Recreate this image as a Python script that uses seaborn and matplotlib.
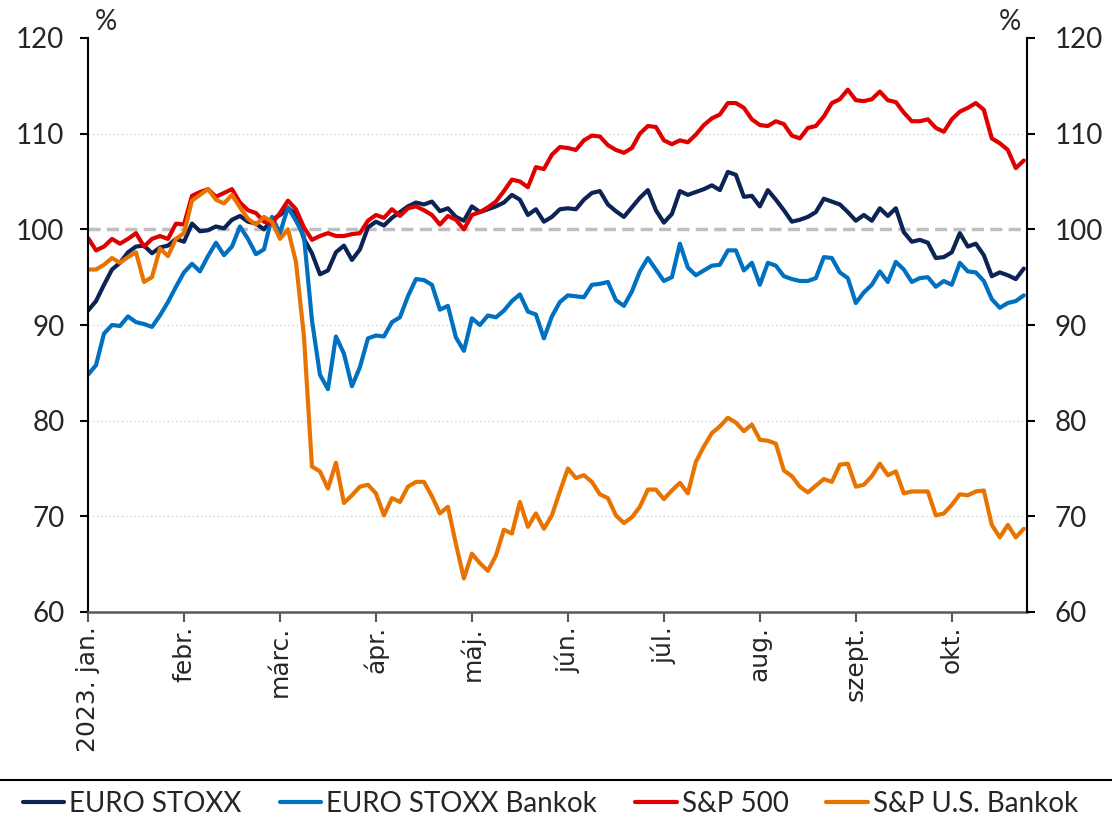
import numpy as np
import pandas as pd
import matplotlib.pyplot as plt
import seaborn as sns
from matplotlib.lines import Line2D

# havi címkék (minden 12. kereskedési pontnál)
months = ["2023. jan.", "febr.", "márc.", "ápr.", "máj.", "jún.",
          "júl.", "aug.", "szept.", "okt."]

# indexek, 2023. jan. eleje = 100 körüli szint (%)
euro_stoxx = [
    91.5, 92.5, 94.2, 95.8, 96.5, 97.6, 98.2, 98.3, 97.5, 98.1, 98.3, 99.0, 98.7, 100.6, 99.8, 99.9, 100.3, 100.1, 101.0, 101.4, 100.8,
    100.6, 100.0, 101.0, 101.5, 102.2, 101.6, 99.0, 97.5, 95.3, 95.7, 97.6, 98.3, 96.8, 97.9, 100.2, 100.8, 100.4, 101.2, 101.8, 102.4,
    102.8, 102.6, 102.9, 101.9, 102.2, 101.3, 100.9, 102.4, 101.8, 102.1, 102.4, 102.8, 103.6, 103.1, 101.5, 102.1, 100.8, 101.3, 102.1, 102.2,
    102.1, 103.1, 103.8, 104.0, 102.6, 101.9, 101.3, 102.3, 103.3, 104.1, 102.0, 100.7, 101.6, 104.0, 103.6, 103.9, 104.2, 104.6, 104.1, 106.0,
    105.7, 103.4, 103.5, 102.4, 104.1, 103.1, 102.0, 100.8, 101.0, 101.3, 101.8, 103.2, 102.9, 102.6, 101.8, 100.9, 101.5, 100.9, 102.2, 101.4,
    102.2, 99.7, 98.7, 98.9, 98.6, 97.0, 97.1, 97.6, 99.6, 98.2, 98.5, 97.3, 95.1, 95.5, 95.2, 94.8, 95.9,
]
euro_banks = [
    84.8, 85.8, 89.1, 90.0, 89.9, 90.9, 90.3, 90.1, 89.8, 91.0, 92.4, 94.0, 95.5, 96.4, 95.6, 97.2, 98.6, 97.3, 98.2, 100.3, 99.0,
    97.4, 97.9, 101.3, 99.6, 102.3, 100.9, 99.3, 90.5, 84.8, 83.3, 88.8, 87.0, 83.6, 85.6, 88.6, 88.9, 88.8, 90.3, 90.8, 93.0,
    94.8, 94.7, 94.2, 91.6, 92.0, 88.7, 87.3, 90.7, 90.0, 91.0, 90.8, 91.5, 92.5, 93.2, 91.4, 91.1, 88.6, 90.9, 92.4, 93.1,
    93.0, 92.9, 94.2, 94.3, 94.5, 92.6, 92.0, 93.5, 95.6, 97.0, 95.8, 94.6, 95.0, 98.5, 96.0, 95.2, 95.7, 96.2, 96.3, 97.8,
    97.8, 95.7, 96.5, 94.2, 96.5, 96.2, 95.1, 94.8, 94.6, 94.6, 94.9, 97.1, 97.0, 95.5, 94.9, 92.3, 93.4, 94.2, 95.6, 94.5,
    96.6, 95.8, 94.5, 94.9, 95.0, 94.0, 94.6, 94.2, 96.5, 95.6, 95.5, 94.6, 92.7, 91.8, 92.3, 92.5, 93.1,
]
sp500 = [
    99.1, 97.8, 98.2, 99.0, 98.5, 99.0, 99.6, 98.2, 99.0, 99.3, 99.0, 100.6, 100.5, 103.5, 103.9, 104.2, 103.4, 103.8, 104.2, 102.8, 102.0,
    101.7, 100.8, 100.6, 101.7, 103.0, 102.1, 100.2, 98.9, 99.3, 99.6, 99.3, 99.3, 99.5, 99.6, 100.9, 101.5, 101.2, 102.1, 101.4, 102.2,
    102.4, 102.0, 101.5, 100.5, 101.4, 101.0, 100.0, 101.5, 101.8, 102.3, 102.9, 104.0, 105.2, 105.0, 104.4, 106.5, 106.3, 107.8, 108.6, 108.5,
    108.3, 109.3, 109.8, 109.7, 108.8, 108.3, 108.0, 108.5, 110.0, 110.8, 110.7, 109.3, 108.9, 109.3, 109.1, 109.9, 110.9, 111.6, 112.0, 113.2,
    113.2, 112.7, 111.5, 110.9, 110.8, 111.3, 111.0, 109.8, 109.5, 110.6, 110.8, 111.8, 113.2, 113.6, 114.6, 113.5, 113.4, 113.6, 114.4, 113.5,
    113.3, 112.2, 111.3, 111.3, 111.5, 110.6, 110.2, 111.5, 112.3, 112.7, 113.2, 112.5, 109.5, 109.0, 108.3, 106.4, 107.2,
]
us_banks = [
    95.8, 95.8, 96.3, 97.0, 96.5, 97.1, 97.6, 94.5, 95.0, 98.0, 97.2, 99.0, 99.6, 103.0, 103.6, 104.2, 103.1, 102.7, 103.6, 102.3, 101.1,
    100.5, 101.3, 100.8, 99.0, 100.0, 96.6, 88.8, 75.2, 74.7, 72.9, 75.6, 71.4, 72.2, 73.1, 73.3, 72.4, 70.1, 71.9, 71.5, 73.1,
    73.6, 73.6, 72.1, 70.3, 71.0, 67.1, 63.5, 66.1, 65.1, 64.3, 65.9, 68.6, 68.2, 71.5, 68.9, 70.3, 68.7, 70.1, 72.6, 75.0,
    74.0, 74.3, 73.6, 72.3, 71.9, 70.1, 69.3, 69.9, 71.0, 72.8, 72.8, 71.8, 72.7, 73.5, 72.4, 75.7, 77.3, 78.7, 79.4, 80.3,
    79.8, 78.9, 79.6, 78.0, 77.9, 77.6, 74.8, 74.2, 73.1, 72.5, 73.2, 73.9, 73.6, 75.4, 75.5, 73.1, 73.3, 74.2, 75.5, 74.3,
    74.7, 72.4, 72.6, 72.6, 72.6, 70.1, 70.3, 71.2, 72.3, 72.2, 72.6, 72.7, 69.1, 67.8, 69.1, 67.8, 68.7,
]

names = ["EURO STOXX", "EURO STOXX Bankok", "S&P 500", "S&P U.S. Bankok"]
colors = ["#0b2454", "#0070c0", "#e00000", "#e97300"]

df = pd.DataFrame({
    "nap": np.arange(len(euro_stoxx)),
    names[0]: euro_stoxx,
    names[1]: euro_banks,
    names[2]: sp500,
    names[3]: us_banks,
})
long = df.melt(id_vars="nap", var_name="sorozat", value_name="ertek")

sns.set_style("ticks")
plt.rcParams["font.family"] = ["Lato", "DejaVu Sans"]

W, H = 1112, 827
fig = plt.figure(figsize=(W / 100, H / 100), dpi=100)
ax = fig.add_axes([88 / W, 1 - 612 / H, (1027 - 88) / W, (612 - 38) / H])

# rácsvonalak és a 100-as szint
for v in [70, 80, 90, 110]:
    ax.axhline(v, color="#d4d4d4", lw=1, ls=(0, (1, 2)), zorder=0)
ax.axhline(100, color="#bfbfbf", lw=2.5, ls=(0, (3.5, 1.8)), zorder=1)

sns.lineplot(data=long, x="nap", y="ertek", hue="sorozat",
             palette=dict(zip(names, colors)), linewidth=3.0, ax=ax)

ax.set_xlim(0, 117.4)
ax.set_ylim(60, 120)
ax.set_xlabel("")
ax.set_ylabel("")
ax.set_xticks(np.arange(0, 12 * len(months), 12))
ax.set_xticklabels(months, rotation=90, va="top", ha="center")
ax.set_yticks(range(60, 121, 10))
ax.tick_params(axis="y", labelsize=20, length=6, width=1.5, pad=11, color="black")
ax.tick_params(axis="x", length=7, width=1.5, pad=3, color="#595959",
               labelsize=18, labelfontfamily="DejaVu Sans")

ax.spines["top"].set_visible(False)
ax.spines["right"].set_visible(False)
ax.spines["left"].set_linewidth(1.5)
ax.spines["left"].set_color("black")
ax.spines["bottom"].set_linewidth(1.8)
ax.spines["bottom"].set_color("#595959")

ax2 = ax.twinx()
ax2.set_ylim(60, 120)
ax2.set_yticks(range(60, 121, 10))
ax2.tick_params(axis="y", labelsize=20, length=6, width=1.5, pad=14, color="black")
for s in ["top", "left", "bottom"]:
    ax2.spines[s].set_visible(False)
ax2.spines["right"].set_linewidth(1.5)
ax2.spines["right"].set_color("black")

fig.text(106 / W, 1 - 22 / H, "%", ha="center", va="center", fontsize=20)
fig.text(1010 / W, 1 - 22 / H, "%", ha="center", va="center", fontsize=20)

# jelmagyarázat a vonal alatt
handles, labels = ax.get_legend_handles_labels()
ax.get_legend().remove()
fig.add_artist(Line2D([0, 1], [1 - 780 / H] * 2, transform=fig.transFigure,
                      color="black", lw=1.5))
fig.legend(handles, labels, loc="center", bbox_to_anchor=(0.495, 0.028), ncol=4,
           frameon=False, fontsize=20, handlelength=1.5, handletextpad=0.18,
           columnspacing=1.36)

fig.savefig("out.png", dpi=100)
